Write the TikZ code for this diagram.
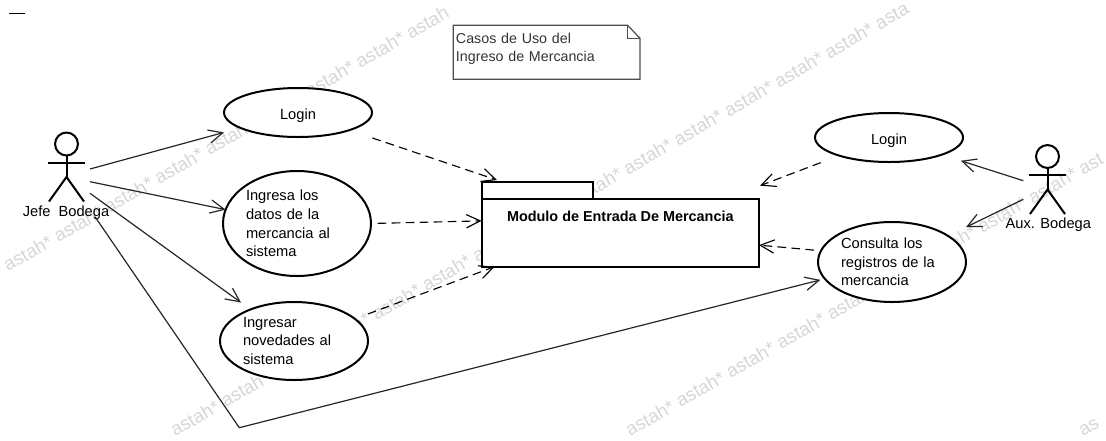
\documentclass[tikz,border=0pt]{standalone}
\usepackage{fontspec}
\setmainfont{Liberation Sans}
\usetikzlibrary{calc}
\usetikzlibrary{arrows.meta}
\usetikzlibrary{shapes.geometric}
\newcommand{\stickman}[1]{
\draw[stick] ($(#1.north)+(0,11.5)$) circle [radius=8.6pt];
\draw[stick] ($(#1.north)+(0,23)$) -- ($(#1.north)+(0,44.5)$);
\draw[stick] ($(#1.north)+(-18.5,30)$) -- ($(#1.north)+(18.5,30)$);
\draw[stick] ($(#1.south)+(-17.5,0)$) -- ($(#1.north)+(0,44.5)$) -- ($(#1.south)+(17.5,0)$);
}
\tikzset{
wmark/.style={anchor=base west, rotate=30, text=black!16, font=\fontsize{14}{16}\selectfont, inner sep=0},
usecase/.style={ellipse, draw=black, line width=1.5pt, fill=white, inner sep=0, outer sep=0, minimum width=111pt, font=\fontsize{11}{13.9}\selectfont},
logincase/.style={usecase, minimum height=36.75pt, text height=13pt, text depth=2.3pt},
casetext/.style={usecase, text width=76.5pt, align=left},
pkgbox/.style={rectangle, draw=black, line width=1.5pt, fill=white, inner sep=0, outer sep=0},
figbox/.style={rectangle, inner sep=0, outer sep=0, minimum width=27.75pt, minimum height=51.75pt},
figname/.style={inner sep=0, font=\fontsize{11}{13}\selectfont},
stick/.style={line width=1.5pt, draw=black},
assoc/.style={draw=black!85, line width=.9pt, -{Straight Barb[length=10.5pt,width=10pt]}},
depend/.style={assoc, draw=black, line width=.85pt, dash pattern=on 6.5pt off 4pt},
}
\begin{document}
\begin{tikzpicture}[x=.75pt, y=-.75pt]
\useasboundingbox (0,0) rectangle (1106,440);
\node[wmark] (rowA) at (8,272) {astah* astah* astah* astah* astah* astah* astah* astah* astah};
\node[wmark] (rowB) at (175,437) {astah* astah* astah* astah* astah* astah* astah* astah* astah* astah* astah* astah* astah* astah* asta};
\node[wmark] (rowC) at (630,437) {astah* astah* astah* astah* astah* astah* astah* astah* astah* ast};
\node[wmark] (rowD) at (1083,437) {as};
\coordinate (markA) at (9,13.3);
\coordinate (markB) at (25,13.3);
\draw[line width=.75pt] (markA) -- (markB);

\node[draw=none, inner xsep=2pt, inner ysep=0, outer sep=0, text width=136pt, align=left, minimum height=40.5pt, text=black!80, font=\fontsize{10.7}{13.8}\selectfont] (note) at (546.65,52.3) {Casos de Uso del\\Ingreso de Mercancia\\[-6pt]~};
\draw[draw=black!70, line width=.9pt] (note.north west) -- ($(note.north east)+(-12.3,0)$) -- ($(note.north east)+(0,13)$) |- (note.south west) -- cycle;
\draw[draw=black!70, line width=.9pt] ($(note.north east)+(-12.3,0)$) |- ($(note.north east)+(0,13)$);

\node[logincase] (loginA) at (298,112.5) {Login};
\node[casetext, minimum height=78.75pt] (ingresa) at (297,223.5) {Ingresa los\\datos de la\\mercancia al\\sistema};
\node[casetext, minimum height=58.5pt] (novedades) at (294,341) {Ingresar\\novedades al\\sistema};
\node[logincase] (loginB) at (889,137.5) {Login};
\node[casetext, minimum height=60pt] (consulta) at (892,262) {Consulta los\\registros de la\\mercancia};

\node[pkgbox, minimum width=83.25pt, minimum height=13.2pt] (pkgTab) at (537.2,190.5) {};
\node[pkgbox, minimum width=208pt, minimum height=50.5pt, text depth=24.75pt, font=\bfseries\fontsize{10.8}{13}\selectfont] (pkg) at (620.3,233) {Modulo de Entrada De Mercancia};

\node[figbox] (jefe) at (66.5,167) {};
\node[figbox] (aux) at (1047.5,179.5) {};
\stickman{jefe}
\stickman{aux}
\node[figname] (jefeName) at (66,213) {Jefe\ \ Bodega};
\node[figname] (auxName) at (1048.3,225) {Aux. Bodega};

\coordinate (jefeA) at ($(jefe.east)+(5,2)$);
\coordinate (jefeB) at ($(jefe.east)+(5,14.7)$);
\coordinate (jefeC) at ($(jefe.east)+(5,26.3)$);
\coordinate (jefeD) at ($(jefe.east)+(10,49.7)$);
\coordinate (bend) at (239.3,427.7);
\coordinate (auxA) at ($(aux.west)+(-5.7,1.2)$);
\coordinate (auxB) at ($(aux.west)+(-5.7,19.8)$);

\draw[assoc, shorten >=12.8pt] (jefeA) -- (loginA.195.6);
\draw[assoc] (jefeB) -- (ingresa.169);
\draw[assoc, shorten >=8.8pt] (jefeC) -- (novedades.144.4);
\draw[assoc, shorten >=3.4pt] (jefeD) -- (bend) -- (consulta.194);
\draw[assoc, shorten >=15pt] (auxA) -- (loginB.342.9);
\draw[assoc, shorten >=15pt] (auxB) -- (consulta.25.3);

\draw[depend, shorten <=18.3pt, shorten >=3.9pt] (loginA.341.3) -- (pkgTab.166.7);
\draw[depend, shorten <=5pt] (ingresa.east) -- (pkg.175.9);
\draw[depend, shorten <=10.4pt] (novedades.20.1) -- (pkg.195.65);
\draw[depend, shorten <=14.8pt, shorten >=29pt] (loginB.200.8) -- (pkg.18.4);
\draw[depend, shorten <=5.3pt] (consulta.171.9) -- (pkg.355.9);
\end{tikzpicture}
\end{document}
